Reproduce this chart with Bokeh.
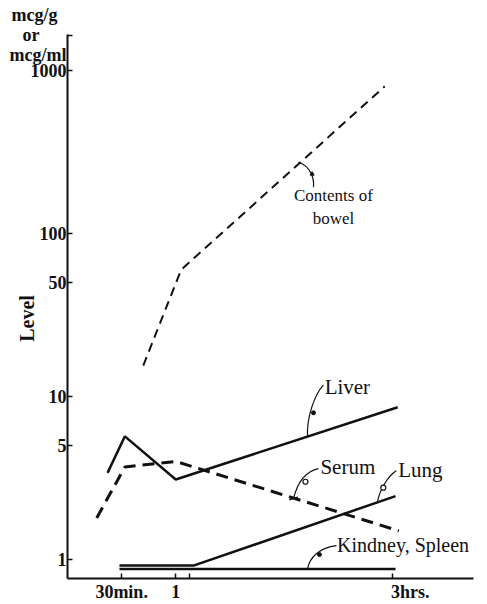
from bokeh.plotting import figure
from bokeh.models import Range1d, FixedTicker, Label
from bokeh.embed import file_html
from bokeh.resources import INLINE

# ---- data (time in hours, level in mcg/g or mcg/ml) ----
bowel_h = [0.70, 1.05, 2.93]
bowel_v = [15.5, 60.0, 800.0]
liver_h = [0.37, 0.53, 1.00, 3.05]
liver_v = [3.4, 5.7, 3.1, 8.6]
serum_h = [0.27, 0.53, 1.00, 3.06]
serum_v = [1.8, 3.7, 4.0, 1.5]
lung_h = [0.48, 1.17, 3.03]
lung_v = [0.92, 0.92, 2.45]
kidney_h = [0.48, 3.03]
kidney_v = [0.875, 0.875]

# y ticks; the topmost position carries the unit text
y_ticks = [1, 5, 10, 50, 100, 1000, 1650]
y_tick_labels = ["1", "5", "10", "50", "100", "1000",
                 "mcg/g\u2002\nor\u2003\u2002\nmcg/ml"]
x_ticks = [0.5, 1.0, 1.125, 3.0]
x_tick_labels = ["30min.", "1", "", "\u2002\u2002\u2002\u20023hrs."]

FONT = "Liberation Serif"
INK = "#111111"

p = figure(width=487, height=604, y_axis_type="log",
           x_range=Range1d(0, 3.75), y_range=Range1d(0.765, 1664),
           output_backend="svg", toolbar_location=None,
           min_border_left=67, min_border_right=14,
           min_border_top=34, min_border_bottom=25)
p.outline_line_color = None
p.grid.visible = False
p.background_fill_color = "white"
p.border_fill_color = "white"

# axes
p.yaxis.ticker = FixedTicker(ticks=y_ticks)
p.yaxis.major_label_overrides = dict(zip(y_ticks, y_tick_labels))
p.yaxis.major_label_text_line_height = 1.0
p.yaxis.minor_tick_line_color = None
p.yaxis.major_tick_in = 5
p.yaxis.major_tick_out = 0
p.yaxis.major_label_standoff = 1
p.yaxis.axis_label = "Level\u2003\u2009"
p.yaxis.axis_label_standoff = -31
p.yaxis.axis_label_text_font = FONT
p.yaxis.axis_label_text_font_size = "20px"
p.yaxis.axis_label_text_font_style = "bold"
p.yaxis.axis_label_text_color = INK

p.xaxis.ticker = FixedTicker(ticks=x_ticks)
p.xaxis.major_label_overrides = dict(zip(x_ticks, x_tick_labels))
p.xaxis.major_label_standoff = 3
p.xaxis.major_tick_in = 5
p.xaxis.major_tick_out = 0
p.xaxis.minor_tick_line_color = None
for ax in (p.xaxis, p.yaxis):
    ax.axis_line_width = 2
    ax.axis_line_color = INK
    ax.major_tick_line_width = 1.5
    ax.major_tick_line_color = INK
    ax.major_label_text_font = FONT
    ax.major_label_text_font_size = "18px"
    ax.major_label_text_font_style = "bold"
    ax.major_label_text_color = INK

# series
p.line(bowel_h, bowel_v, line_width=2, line_dash="9 6", color=INK)
p.line(serum_h, serum_v, line_width=3, line_dash="12 7", color=INK)
p.line(liver_h, liver_v, line_width=2.5, color=INK)
p.line(lung_h, lung_v, line_width=2.5, color=INK)
p.line(kidney_h, kidney_v, line_width=2.5, color=INK)

# leaders: start, control0, control1, end, mark position, mark type
leaders = [
    ((2.134, 273.7), (2.244, 258.6), (2.281, 218.4), (2.272, 192.4), (2.26, 232.0), "triangle"),
    ((2.217, 5.67), (2.207, 7.41), (2.281, 10.24), (2.364, 11.79), (2.272, 7.95), "circle"),
    ((2.088, 2.37), (2.12, 2.88), (2.189, 3.46), (2.318, 3.61), (2.198, 3.00), "circle_open"),
    ((2.862, 2.234), (2.880, 2.68), (2.963, 3.27), (3.037, 3.51), (2.917, 2.76), "circle_open"),
    ((2.217, 0.877), (2.235, 1.029), (2.327, 1.184), (2.484, 1.218), (2.327, 1.073), "circle"),
]
for s0, c0, c1, e, m, mk in leaders:
    p.bezier(x0=[s0[0]], y0=[s0[1]], x1=[e[0]], y1=[e[1]],
             cx0=[c0[0]], cy0=[c0[1]], cx1=[c1[0]], cy1=[c1[1]],
             line_color=INK, line_width=1.2)
    if mk == "circle_open":
        p.scatter([m[0]], [m[1]], marker="circle", size=5, fill_color="white",
                  line_color=INK, line_width=1.2)
    else:
        p.scatter([m[0]], [m[1]], marker=mk, size=4, color=INK)
p.scatter([2.088], [2.37], marker="dash", size=9, line_color=INK, line_width=1.5, angle=0.3)

# annotation labels
annots = [
    ("Contents of", 2.456, 171.8, "center", "17px"),
    ("bowel", 2.456, 124.3, "center", "17px"),
    ("Liver", 2.375, 11.5, "left", "21px"),
    ("Serum", 2.336, 3.71, "left", "21px"),
    ("Lung", 3.055, 3.56, "left", "21px"),
    ("Kindney, Spleen", 2.49, 1.235, "left", "20px"),
]
for s, xx, yy, al, fs in annots:
    p.add_layout(Label(x=xx, y=yy, text=s, text_font=FONT, text_font_size=fs,
                       text_align=al, text_baseline="middle", text_color=INK))

open("out.html", "w").write(file_html(p, INLINE))
